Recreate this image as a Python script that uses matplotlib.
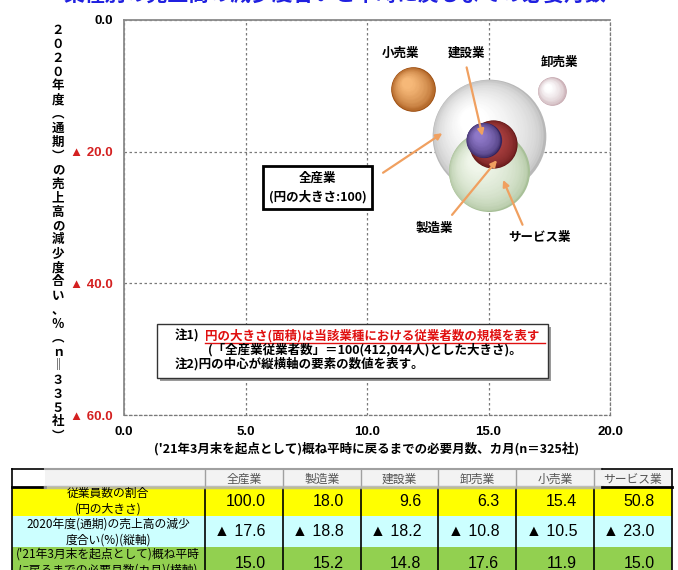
import numpy as np
import matplotlib.pyplot as plt
from matplotlib.transforms import offset_copy
from matplotlib.colors import to_rgb
from matplotlib.patches import Rectangle

plt.rcParams['font.family'] = ['Noto Sans CJK JP', 'DejaVu Sans']
NUM_FONT = ['Liberation Sans', 'Noto Sans CJK JP']

# --- données ---
industries = ['全産業', '製造業', '建設業', '卸売業', '小売業', 'サービス業']
share = [100.0, 18.0, 9.6, 6.3, 15.4, 50.8]       # 従業員数の割合（円の大きさ）
decline = [17.6, 18.8, 18.2, 10.8, 10.5, 23.0]    # 売上高の減少度合い（縦軸）
months = [15.0, 15.2, 14.8, 17.6, 11.9, 15.0]     # 必要月数（横軸）

x_ticks = [0, 5, 10, 15, 20]
y_ticks = [0, 20, 40, 60]

row_labels = ['従業員数の割合\n(円の大きさ)',
              '2020年度(通期)の売上高の減少\n度合い(%)(縦軸)',
              '(\'21年3月末を起点として)概ね平時\nに戻るまでの必要月数(カ月)(横軸)']

TITLE = '業種別の売上高の減少度合いと平時に戻るまでの必要月数'
XLABEL = '(\'21年3月末を起点として)概ね平時に戻るまでの必要月数、カ月(n＝325社)'
YLABEL = ['２', '０', '２', '０', '年', '度', '︵', '通', '期', '︶', 'の', '売',
          '上', '高', 'の', '減', '少', '度', '合', 'い', '、', '％', '︵', 'ｎ',
          '‖', '３', '３', '５', '社', '︶']

# couleurs des sphères : (bord, reflet), ordre d'empilement
sphere_style = {
    '全産業': ('#b8b8b8', '#ffffff', 2),
    'サービス業': ('#a8c098', '#f0f6ea', 3),
    '製造業': ('#5e1414', '#b84848', 4),
    '建設業': ('#33245e', '#8e78c8', 5),
    '小売業': ('#9a4a0c', '#f6b878', 3),
    '卸売業': ('#c0a0a8', '#ffffff', 3),
}

# étiquettes : position du texte, (départ, arrivée) de la flèche
labels = {
    '小売業': ((11.36, 5.0), None),
    '建設業': ((14.1, 5.0), ((14.1, 7.2), (14.75, 17.6))),
    '卸売業': ((17.9, 6.5), None),
    '製造業': ((12.76, 31.6), ((13.5, 29.6), (15.35, 21.3))),
    'サービス業': ((17.1, 33.1), ((16.4, 31.1), (15.6, 24.3))),
}

S_SCALE = 67.0   # points^2 par unité de taille
ARROW = '#f0a060'

fig = plt.figure(figsize=(6.78, 5.70), dpi=100)
ax = fig.add_axes([124 / 678, 1 - 415 / 570, 486 / 678, 395 / 570])


def sphere(ax, x, y, size, edge, light, z, n=30):
    d = np.sqrt(size * S_SCALE)
    e, l = np.array(to_rgb(edge)), np.array(to_rgb(light))
    for k in range(n):
        f = k / (n - 1)
        dk = d * (1 - 0.85 * f)
        off = d * 0.15 * f
        col = e + (l - e) * min(1.0, f ** 0.45 * 1.05)
        tr = offset_copy(ax.transData, fig=fig, x=-off, y=off, units='points')
        ax.scatter([x], [y], s=dk ** 2, color=col, transform=tr, zorder=z,
                   linewidths=0)


for name, sz, yv, xv in zip(industries, share, decline, months):
    edge, light, z = sphere_style[name]
    sphere(ax, xv, yv, sz, edge, light, z)

for name, (tpos, arr) in labels.items():
    ax.text(tpos[0], tpos[1], name, ha='center', va='center', fontsize=9,
            fontweight='bold', zorder=10)
    if arr is not None:
        ax.annotate('', xy=arr[1], xytext=arr[0], zorder=9,
                    arrowprops=dict(arrowstyle='-|>', color=ARROW, lw=1.6,
                                    mutation_scale=9, shrinkA=0, shrinkB=0))

# 全産業 : étiquette encadrée
ax.text(7.98, 25.5, '全産業\n(円の大きさ:100)', ha='center', va='center',
        fontsize=9, fontweight='bold', linespacing=1.5, zorder=10,
        bbox=dict(boxstyle='square,pad=0.45', fc='white', ec='black', lw=2))
ax.annotate('', xy=(13.1, 17.2), xytext=(10.66, 23.2), zorder=9,
            arrowprops=dict(arrowstyle='-|>', color=ARROW, lw=1.6,
                            mutation_scale=9, shrinkA=0, shrinkB=0))

# axes
ax.set_xlim(0, 20)
ax.set_ylim(60, 0)
ax.set_xticks(x_ticks)
ax.set_yticks(y_ticks)
ax.set_xticklabels([f'{v:.1f}' for v in x_ticks], fontsize=9.5,
                   fontweight='bold', family=NUM_FONT)
ax.set_yticklabels(['0.0' if v == 0 else f'▲ {v:.1f}' for v in y_ticks],
                   fontsize=9.5, fontweight='bold', family=NUM_FONT)
for v, t in zip(y_ticks, ax.get_yticklabels()):
    t.set_color('black' if v == 0 else '#d42020')
ax.tick_params(length=0, pad=8)
ax.grid(True, linestyle=(0, (2, 2)), color='#7a7a7a', lw=0.9)
ax.set_axisbelow(True)
for s in ['left', 'top']:
    ax.spines[s].set_color('#8a8a8a')
    ax.spines[s].set_linewidth(1.3)
for s in ['right', 'bottom']:
    ax.spines[s].set_color('#7a7a7a')
    ax.spines[s].set_linestyle((0, (2, 2)))
    ax.spines[s].set_linewidth(0.9)
ax.set_xlabel(XLABEL, fontsize=9, fontweight='bold', labelpad=3)

# --- calque en pixels : titre, libellé vertical, note, tableau ---
ov = fig.add_axes([0, 0, 1, 1], zorder=5)
ov.set_xlim(0, 678)
ov.set_ylim(570, 0)
ov.axis('off')
ov.patch.set_visible(False)

ov.text(335, -6, TITLE, ha='center', va='center', fontsize=15,
        fontweight='bold', color='#2020e0')

for i, ch in enumerate(YLABEL):
    ov.text(58, 30 + i * 14.0, ch, ha='center', va='center', fontsize=9,
            fontweight='bold')

# note
ov.add_patch(Rectangle((160, 327), 391, 54, fc='#9a9a9a', ec='none'))
ov.add_patch(Rectangle((157, 324), 391, 54, fc='white', ec='#333333', lw=1))
ov.text(175, 336, '注1)', ha='left', va='center', fontsize=9,
        fontweight='bold')
ov.text(205, 336, '円の大きさ(面積)は当該業種における従業者数の規模を表す',
        ha='left', va='center', fontsize=9, fontweight='bold', color='#e01010')
ov.plot([205, 545], [343, 343], color='#e01010', lw=1)
ov.text(208, 350, '(「全産業従業者数」＝100(412,044人)とした大きさ)。',
        ha='left', va='center', fontsize=9, fontweight='bold')
ov.text(175, 364, '注2)円の中心が縦横軸の要素の数値を表す。', ha='left',
        va='center', fontsize=9, fontweight='bold')

# tableau
col_x = [12, 205] + [205 + 77.8 * (i + 1) for i in range(6)]
row_y = [469, 487, 516, 547, 585]
row_bg = ['#ffff00', '#ccffff', '#92d050']

ov.add_patch(Rectangle((12, 469), 660, 18, fc='#f3f3f3', ec='none'))
ov.add_patch(Rectangle((12, 469), 33, 18, fc='white', ec='none'))
for r, bg in enumerate(row_bg):
    ov.add_patch(Rectangle((12, row_y[r + 1]), 660, row_y[r + 2] - row_y[r + 1],
                           fc=bg, ec='none'))

for j, name in enumerate(industries):
    ov.text((col_x[j + 1] + col_x[j + 2]) / 2, 479, name, ha='center',
            va='center', fontsize=8.5, color='#555555')

values = [[f'{v:.1f}' for v in share],
          [f'▲ {v:.1f}' for v in decline],
          [f'{v:.1f}' for v in months]]
val_y = [501, 532, 563]
lab_y = [501, 532, 562]
for r in range(3):
    ov.text(108, lab_y[r], row_labels[r], ha='center', va='center',
            fontsize=8.5, linespacing=1.3)
    for j in range(6):
        ov.text(col_x[j + 2] - 17, val_y[r], values[r][j], ha='right',
                va='center', fontsize=11.5, family=NUM_FONT)

# traits du tableau
for x in col_x[1:-1]:
    ov.plot([x, x], [469, 487], color='#a0a0a0', lw=1)
    ov.plot([x, x], [489, 570], color='black', lw=1.2)
ov.plot([12, 12], [469, 570], color='black', lw=1.2)
ov.plot([672, 672], [469, 570], color='black', lw=1.2)
ov.plot([12, 45], [469, 469], color='black', lw=1.2)
ov.plot([45, 602], [469, 469], color='#a0a0a0', lw=1.5)
ov.plot([602, 672], [469, 469], color='black', lw=1.2)
ov.plot([12, 45], [487, 487], color='black', lw=2)
ov.plot([45, 602], [487, 487], color='#b0b0b0', lw=2.5, alpha=0.8)
ov.plot([602, 672], [487, 487], color='black', lw=2)

fig.savefig('out.png', dpi=100)
